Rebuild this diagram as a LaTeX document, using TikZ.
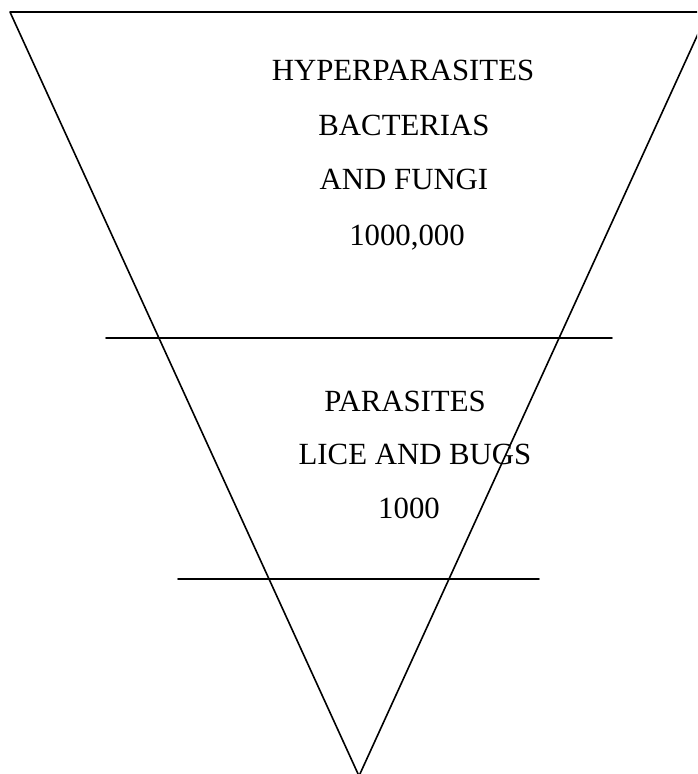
\documentclass[tikz,border=0pt]{standalone}
\usepackage{fontspec}
\setmainfont{Liberation Serif}
\usepackage{tikz}
\tikzset{
  every picture/.style={line join=round, line cap=round},
  edge/.style={line width=1.2pt},
  label/.style={anchor=base, inner sep=0pt, font=\fontsize{23.1}{28}\selectfont},
}

\begin{document}
\begin{tikzpicture}[x=0.75pt,y=-0.75pt]
\useasboundingbox (0,0) rectangle (697,774);
\clip (0,0) rectangle (697,774);
\coordinate (tl) at (10,12);
\coordinate (tr) at (708,12);
\coordinate (ap) at (359,776);
\draw[edge] (tl)--(tr)--(ap)--cycle;
\draw[edge] (106,338)--(612,338);
\draw[edge] (178,579)--(539,579);
\node[label] (hyper) at (403,80) {HYPERPARASITES};
\node[label] (bact) at (404,135) {BACTERIAS};
\node[label] (fungi) at (404,189) {AND FUNGI};
\node[label] (big) at (407,245) {1000,000};
\node[label] (para) at (405,411) {PARASITES};
\node[label] (lice) at (415,464) {LICE AND BUGS};
\node[label] (small) at (409,518) {1000};
\end{tikzpicture}
\end{document}
